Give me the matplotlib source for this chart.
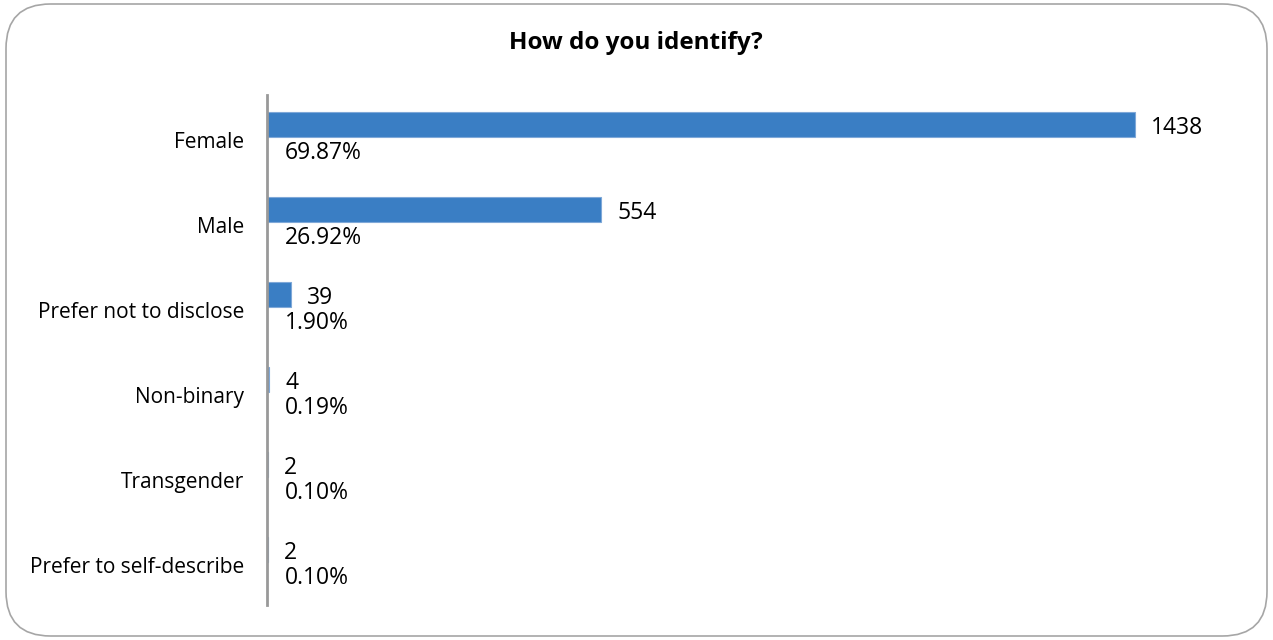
import matplotlib
matplotlib.use("Agg")
import numpy as np
from matplotlib import pyplot as plt
from matplotlib.patches import FancyBboxPatch

categories = ["Female", "Male", "Prefer not to disclose", "Non-binary",
              "Transgender", "Prefer to self-describe"]
counts = [1438, 554, 39, 4, 2, 2]
percents = ["69.87%", "26.92%", "1.90%", "0.19%", "0.10%", "0.10%"]

plt.rcParams['font.family'] = ['Open Sans', 'DejaVu Sans']

W, H = 1273, 640
fig = plt.figure(figsize=(W / 100, H / 100), dpi=100)

# rounded border round the whole chart
border = FancyBboxPatch((6 / W, 4 / H), 1261 / W, 632 / H,
                        boxstyle="round,pad=0,rounding_size=0.035",
                        transform=fig.transFigure, fill=False,
                        edgecolor="#a6a6a6", linewidth=1.2,
                        mutation_aspect=W / H)
fig.patches.append(border)

ax = fig.add_axes([267 / W, 35 / H, 966 / W, 510 / H])
ypos = np.arange(len(categories))
# bars sit in the upper part of each slot, labels beneath them
bar_y = ypos - 0.15
ax.barh(bar_y, counts, height=0.29, color="#3a7ec4", edgecolor="#7fa8d8",
        linewidth=0.8)
ax.set_ylim(len(categories) - 0.5, -0.5)
ax.set_xlim(0, 1600)

for y, c, p in zip(bar_y, counts, percents):
    ax.annotate(str(c), (c, y), xytext=(11.5, -2.5), textcoords="offset points",
                ha="left", va="center", fontsize=16.5)
    ax.annotate(p, (0, y), xytext=(13, -20), textcoords="offset points",
                ha="left", va="center", fontsize=16.5)

ax.set_yticks(ypos + 0.03)
ax.set_yticklabels(categories, fontsize=15)
ax.tick_params(axis="y", length=0, pad=16.5)
ax.set_xticks([])
for s in ["top", "right", "bottom"]:
    ax.spines[s].set_visible(False)
ax.spines["left"].set_color("#999999")
ax.spines["left"].set_linewidth(2)

fig.text(636 / W, 1 - 43 / H, "How do you identify?", ha="center",
         va="center", fontsize=17.5, fontweight="bold")

fig.savefig("out.png", dpi=100)
